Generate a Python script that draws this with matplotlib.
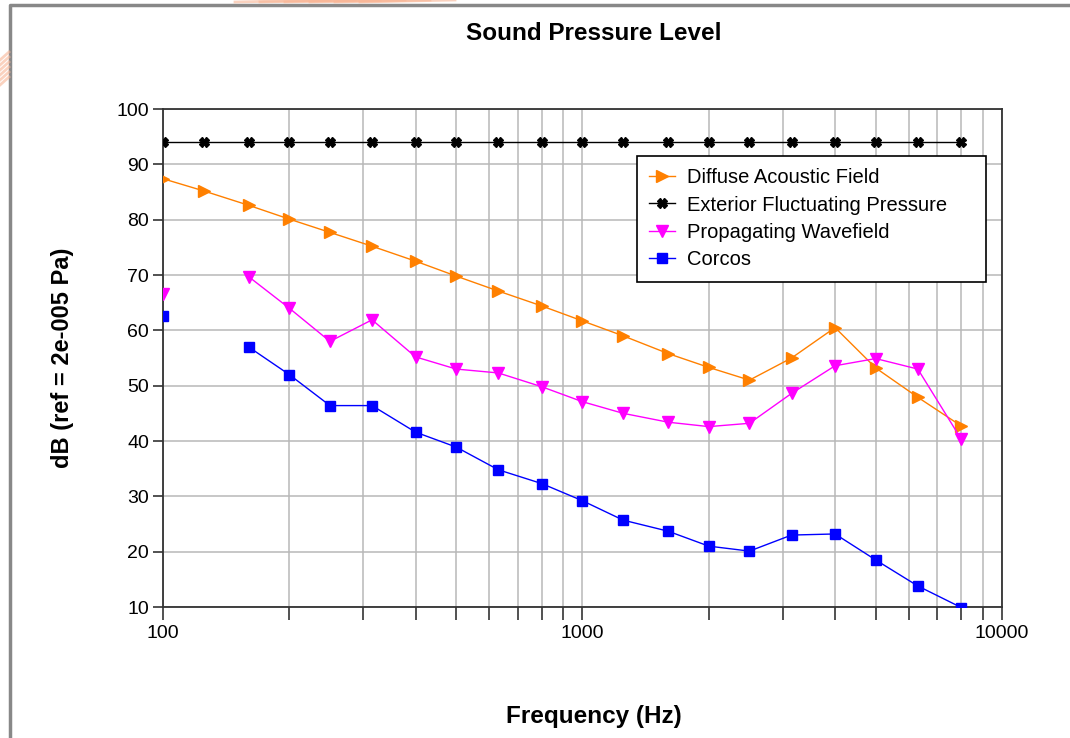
import numpy as np
import matplotlib
matplotlib.use("Agg")
import matplotlib.pyplot as plt
from matplotlib.lines import Line2D
from matplotlib.ticker import LogLocator, NullFormatter, FixedLocator, FixedFormatter

plt.rcParams['font.family'] = ['Liberation Sans', 'DejaVu Sans']

# 1/3 octave band centre frequencies (Hz)
freqs = [100, 125, 160, 200, 250, 315, 400, 500, 630, 800,
         1000, 1250, 1600, 2000, 2500, 3150, 4000, 5000, 6300, 8000]

diffuse = [87.4, 85.2, 82.6, 80.1, 77.7, 75.2, 72.5, 69.8, 67.1, 64.4,
           61.7, 59.0, 55.8, 53.3, 51.0, 55.0, 60.5, 53.2, 47.9, 42.7]
exterior = [94.0] * 20
propagating = [66.6, np.nan, 69.7, 64.0, 58.0, 61.9, 55.2, 53.0, 52.3, 49.8,
               47.1, 45.0, 43.4, 42.6, 43.2, 48.6, 53.6, 54.9, 53.0, 40.3]
corcos = [62.6, np.nan, 57.0, 52.0, 46.4, 46.4, 41.6, 38.9, 34.8, 32.3,
          29.2, 25.7, 23.7, 21.0, 20.1, 23.0, 23.2, 18.5, 13.8, 9.9]

series_names = ["Diffuse Acoustic Field", "Exterior Fluctuating Pressure",
                "Propagating Wavefield", "Corcos"]

fig = plt.figure(figsize=(10.70, 7.38), dpi=100)
ax = fig.add_axes([163 / 1070, 1 - 607 / 738, 839 / 1070, 498 / 738])

ax.plot(freqs, diffuse, color='#ff8000', lw=1.0, marker='>', ms=8,
        mec='#ff8000', label=series_names[0], zorder=3)
ax.plot(freqs, exterior, color='black', lw=1.0, marker='X', ms=7,
        mec='black', label=series_names[1], zorder=3)
ax.plot(freqs, propagating, color='#ff00ff', lw=1.0, marker='v', ms=8,
        mec='#ff00ff', label=series_names[2], zorder=3)
ax.plot(freqs, corcos, color='#0000ff', lw=1.0, marker='s', ms=7.5,
        mec='#0000ff', label=series_names[3], zorder=3)

ax.set_xscale('log')
ax.set_xlim(100, 10000)
ax.set_ylim(10, 100)
ax.set_yticks(np.arange(10, 101, 10))
ax.xaxis.set_major_locator(FixedLocator([100, 1000, 10000]))
ax.xaxis.set_major_formatter(FixedFormatter(["100", "1000", "10000"]))
ax.xaxis.set_minor_locator(LogLocator(base=10, subs=np.arange(2, 10)))
ax.xaxis.set_minor_formatter(NullFormatter())

ax.grid(True, which='both', axis='x', color='#b8b8b8', lw=1.1)
ax.grid(True, which='major', axis='y', color='#b8b8b8', lw=1.1)
ax.set_axisbelow(True)

for sp in ax.spines.values():
    sp.set_color('#333333')
    sp.set_linewidth(1.3)

ax.tick_params(axis='y', direction='out', length=7, width=1.2, color='#333333',
               labelsize=14, pad=3)
ax.tick_params(axis='x', which='both', direction='out', length=9, width=1.2,
               color='#333333', labelsize=14, pad=4)

leg = ax.legend(loc='upper left',
                bbox_to_anchor=((637 - 163) / 839, (607 - 156) / 498, (986 - 637) / 839, 0),
                mode='expand', fontsize=14.5, frameon=True, fancybox=False, framealpha=1,
                edgecolor='black', labelspacing=0.42, handlelength=1.3,
                handletextpad=0.6, borderpad=0.6, borderaxespad=0)
leg.get_frame().set_linewidth(1.2)

fig.text(594 / 1070, 1 - 33 / 738, "Sound Pressure Level", fontsize=17.5,
         fontweight='bold', ha='center', va='center')
fig.text(594 / 1070, 1 - 717 / 738, "Frequency (Hz)", fontsize=17.5,
         fontweight='bold', ha='center', va='center')
fig.text(63 / 1070, 1 - 358 / 738, "dB (ref = 2e-005 Pa)", fontsize=17,
         fontweight='bold', ha='center', va='center', rotation=90)

# window frame and faint decoration around the screenshot
fig.add_artist(Line2D([10 / 1070, 10 / 1070, 1.0], [0.0, 1 - 5 / 738, 1 - 5 / 738],
                      transform=fig.transFigure, color='#888888', lw=2.5))
for i in range(6):
    fig.add_artist(Line2D([(235 + i * 25) / 1070, (330 + i * 25) / 1070],
                          [1 - 2 / 738, 1.0], transform=fig.transFigure,
                          color='#f8b595', lw=2, alpha=0.6))
    fig.add_artist(Line2D([0.0, 9 / 1070], [1 - (60 + i * 5) / 738, 1 - (52 + i * 5) / 738],
                          transform=fig.transFigure, color='#f8b595', lw=2, alpha=0.6))

fig.savefig("out.png", dpi=100, facecolor='white')
